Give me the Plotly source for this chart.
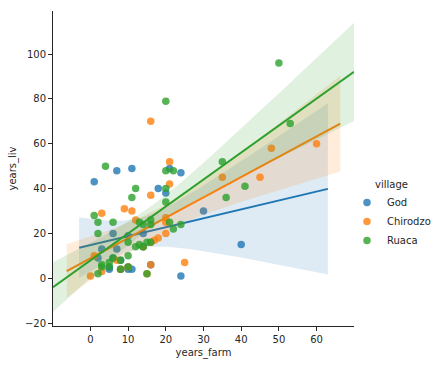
import numpy as np
import plotly.graph_objects as go

# ---- data (some points sit underneath others) ----
villages = ["God", "Chirodzo", "Ruaca"]

god_farm = [1, 7, 11, 21, 24, 18, 20, 30, 40, 24, 6, 10, 14, 3, 2, 5, 10, 11, 7,
            16, 10, 8, 5, 8, 6, 14]
god_liv = [43, 48, 49, 49, 47, 40, 38, 30, 15, 1, 20, 19, 20, 13, 9, 4, 4, 4, 13,
           6, 5, 4, 5, 8, 9, 14]

chi_farm = [21, 21, 16, 9, 11, 3, 12, 20, 20, 20, 18, 17, 1, 7, 16, 25, 0, 3, 16, 48, 60, 35, 45,
            15, 10, 8, 14, 16]
chi_liv = [52, 42, 37, 31, 30, 29, 26, 27, 25, 20, 18, 17, 10, 8, 6, 7, 1, 3, 70, 58, 60, 45, 45,
           2, 5, 4, 14, 16]

rua_farm = [4, 12, 11, 1, 13, 16, 16, 21, 2, 6, 2, 22, 24, 20, 22, 20, 20, 15, 16, 14,
            12, 13, 10, 6, 8, 10, 3, 5, 5, 8, 10, 2, 15, 20, 50, 53, 35, 41, 36, 14, 3]
rua_liv = [50, 40, 36, 28, 25, 26, 24, 25, 25, 25, 20, 22, 24, 48, 48, 40, 34, 16, 16, 14,
           14, 15, 16, 9, 8, 10, 5, 5, 7, 4, 5, 2, 2, 79, 96, 69, 52, 41, 36, 24, 6]

x_ticks = [0, 10, 20, 30, 40, 50, 60, 70]
y_ticks = [-20, 0, 20, 40, 60, 80, 100]

series = {
    "God": (god_farm, god_liv),
    "Chirodzo": (chi_farm, chi_liv),
    "Ruaca": (rua_farm, rua_liv),
}
colors = {"God": (31, 119, 180), "Chirodzo": (255, 127, 14), "Ruaca": (44, 160, 44)}


def t975(df):
    z = 1.959964
    return z + (z**3 + z) / (4 * df) + (5 * z**5 + 16 * z**3 + 3 * z) / (96 * df**2)


# emulate matplotlib autoscaling used by seaborn lmplot for line extents
all_x = np.concatenate([np.asarray(v[0], float) for v in series.values()])
lo, hi = all_x.min(), all_x.max()
r = hi - lo
lo, hi = lo - 0.05 * r, hi + 0.05 * r

fig = go.Figure()
ext = None
for name in villages:
    xs = np.asarray(series[name][0], float)
    ys = np.asarray(series[name][1], float)
    cr, cg, cb = colors[name]
    fig.add_trace(go.Scatter(
        x=xs, y=ys, mode="markers", name=name,
        marker=dict(size=7.5, color=f"rgb({cr},{cg},{cb})", opacity=0.8, line=dict(width=0)),
        showlegend=True,
    ))
    ext = (lo, hi)
    grid = np.linspace(lo, hi, 100)
    n = len(xs)
    b, a = np.polyfit(xs, ys, 1)
    yhat = a + b * grid
    resid = ys - (a + b * xs)
    s = np.sqrt(np.sum(resid**2) / (n - 2))
    xm = xs.mean()
    sxx = np.sum((xs - xm) ** 2)
    se = s * np.sqrt(1 / n + (grid - xm) ** 2 / sxx)
    tv = t975(n - 2)
    upper = yhat + tv * se
    lower = yhat - tv * se
    fig.add_trace(go.Scatter(
        x=np.concatenate([grid, grid[::-1]]), y=np.concatenate([upper, lower[::-1]]),
        fill="toself", fillcolor=f"rgba({cr},{cg},{cb},0.15)", line=dict(width=0),
        mode="lines", hoverinfo="skip", showlegend=False,
    ))
    fig.add_trace(go.Scatter(
        x=grid, y=yhat, mode="lines", line=dict(color=f"rgb({cr},{cg},{cb})", width=2),
        hoverinfo="skip", showlegend=False,
    ))
    w = hi - lo
    lo, hi = lo - 0.05 * w, hi + 0.05 * w

axis_col = "#262626"
W, H = 443, 366
ML, MR, MT, MB = 53, 5, 11, 40
plot_right = 354
pw = W - ML - MR
ph = H - MT - MB
dom_end = (plot_right - ML) / pw
legend_left = 347
legend_top = 175

fig.update_layout(
    width=W, height=H,
    margin=dict(l=ML, r=MR, t=MT, b=MB, autoexpand=False),
    paper_bgcolor="white", plot_bgcolor="white",
    font=dict(family="DejaVu Sans", size=10, color=axis_col),
    showlegend=True,
    legend=dict(
        title=dict(text="village", side="top center", font=dict(size=10)),
        x=(legend_left - ML) / pw, xanchor="left",
        y=1 - (legend_top - MT) / ph, yanchor="top",
        font=dict(size=10), itemsizing="trace", itemwidth=30, tracegroupgap=0,
        bgcolor="rgba(0,0,0,0)",
    ),
    xaxis=dict(
        domain=[0, dom_end], automargin=False,
        range=[ext[0], ext[1]], tickmode="array", tickvals=x_ticks,
        ticks="outside", ticklen=4, tickwidth=1, tickcolor=axis_col,
        showline=True, linecolor=axis_col, linewidth=1, showgrid=False, zeroline=False,
        title=dict(text="years_farm", font=dict(size=10), standoff=4),
    ),
    yaxis=dict(
        automargin=False,
        range=[-21.3, 119.2], tickmode="array", tickvals=y_ticks,
        ticks="outside", ticklen=4, tickwidth=1, tickcolor=axis_col,
        showline=True, linecolor=axis_col, linewidth=1, showgrid=False, zeroline=False,
        title=dict(text="years_liv", font=dict(size=10), standoff=6),
    ),
)

fig.write_html("out.html", config={"displayModeBar": False},
               post_script="document.body.style.margin='0';")
